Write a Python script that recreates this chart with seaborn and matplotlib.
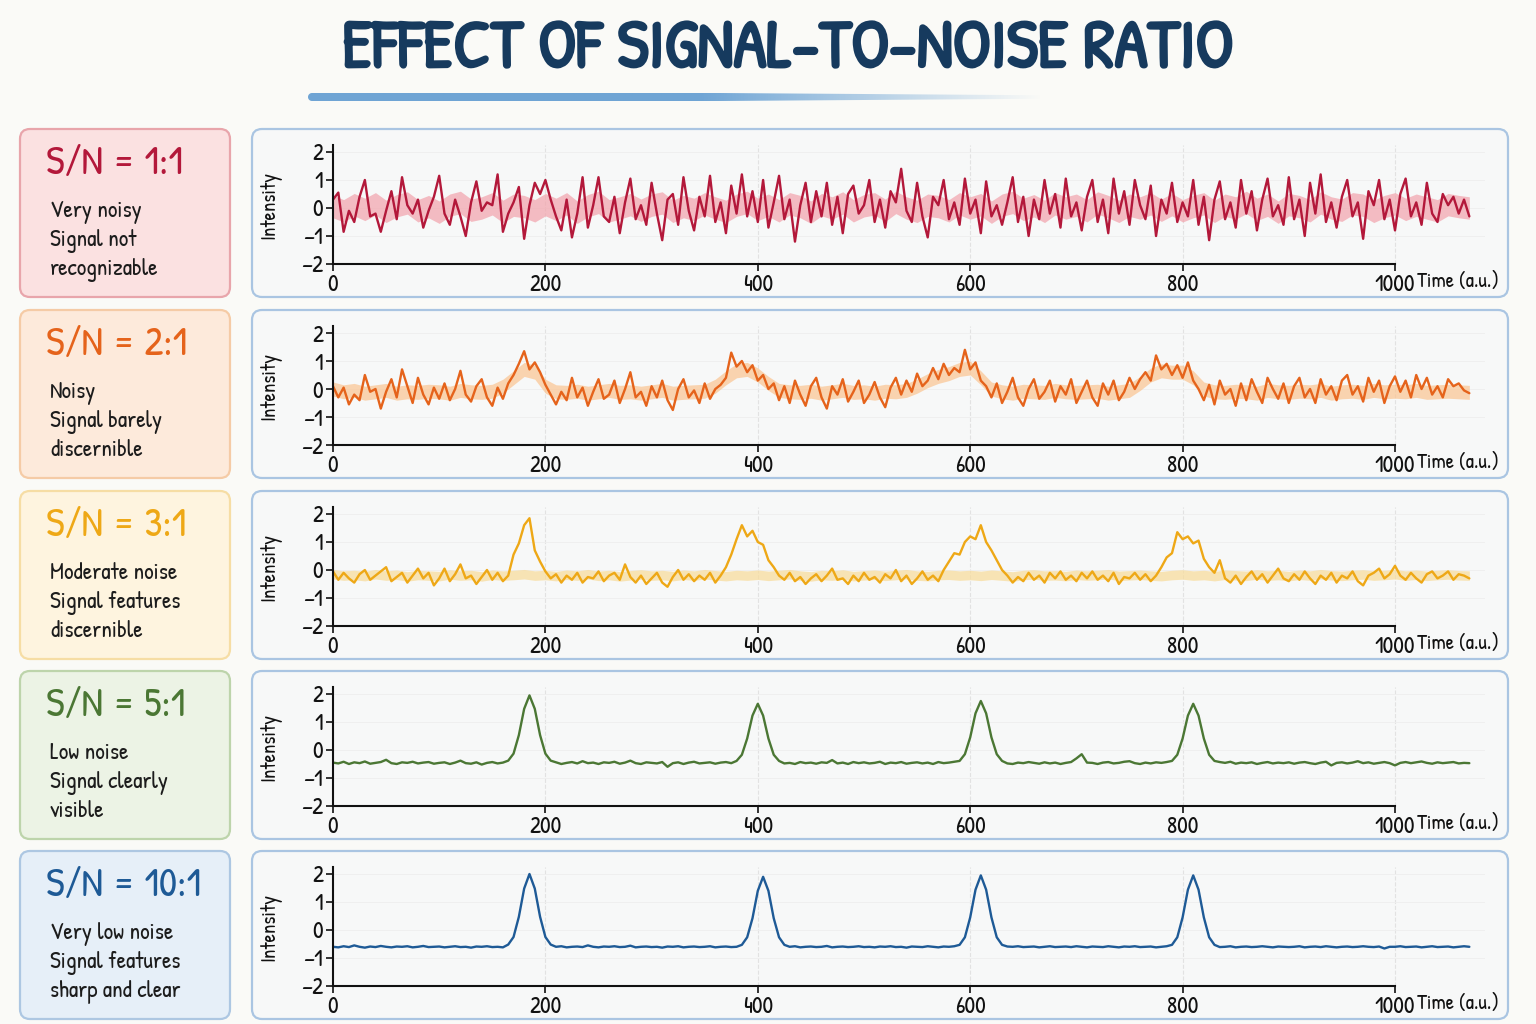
import numpy as np
import pandas as pd
import seaborn as sns
import matplotlib.pyplot as plt
import matplotlib.patheffects as pe
from matplotlib.patches import FancyBboxPatch, Polygon
from matplotlib.colors import to_rgb

# sampling grid of the traces (every 5 a.u.) and of the shaded bands (every 10 a.u.)
time = np.arange(0, 1071, 5)
band_time = np.arange(0, 1071, 10)

sn_labels = ["S/N = 1:1", "S/N = 2:1", "S/N = 3:1", "S/N = 5:1", "S/N = 10:1"]
sn_notes = [
    ["Very noisy", "Signal not", "recognizable"],
    ["Noisy", "Signal barely", "discernible"],
    ["Moderate noise", "Signal features", "discernible"],
    ["Low noise", "Signal clearly", "visible"],
    ["Very low noise", "Signal features", "sharp and clear"],
]

sn1 = [0.3, 0.55, -0.85, -0.1, -0.5, 0.4, 1.0, -0.3, -0.2, -0.85, -0.1, 0.6, -0.4, 1.1, 0.1, -0.2, 0.3, -0.7, -0.1, 0.4,
       1.15, -0.2, -0.6, 0.3, -0.3, -1.0, 0.2, 0.95, -0.1, 0.2, 0.1, 1.2, -0.85, -0.2, 0.2, 0.75, -1.1, 0.1, 0.9, 0.5,
       1.0, 0.3, -0.3, -0.8, 0.3, -1.05, -0.2, 1.1, -0.7, 0.1, 1.1, -0.3, -0.5, 0.4, -0.9, 0.2, 1.05, -0.4, 0.1, -0.6,
       0.9, -0.2, -1.15, 0.3, 0.5, -0.6, 1.1, -0.1, -0.8, 0.4, -0.3, 1.15, -0.5, 0.2, -0.9, 0.8, -0.2, 1.2, -0.3, 0.6,
       -0.5, 1.0, -0.7, 0.2, 1.15, -0.4, 0.3, -1.2, 0.1, 0.9, -0.5, 0.6, -0.3, 0.9, -0.6, 0.4, -0.9, 0.5, 0.8, -0.2,
       0.1, 1.0, -0.5, 0.3, -0.7, 0.6, 0.2, 1.4, -0.1, -0.5, 0.9, -0.3, -1.05, 0.4, 0.1, 1.0, -0.4, 0.2, -0.6, 1.05,
       -0.2, 0.3, -0.9, 0.95, -0.3, 0.1, -0.6, 0.2, 1.1, -0.5, 0.4, -1.0, 0.3, -0.4, 1.0, -0.2, 0.5, -0.7, 1.05, -0.3,
       0.2, -0.8, 0.4, 1.0, -0.5, 0.3, -0.9, 1.05, -0.2, 0.6, -0.6, 1.0, 0.1, -0.4, 0.8, -1.0, 0.3, -0.2, 0.9, -0.5,
       0.2, -0.3, 1.0, -0.6, 0.4, -1.15, 0.3, 0.95, -0.4, 0.2, -0.7, 1.0, -0.2, 0.6, -0.8, 0.3, 1.05, -0.3, 0.1, -0.6,
       1.1, -0.4, 0.3, -1.0, 0.9, -0.2, 1.2, -0.5, 0.2, -0.7, 0.4, 1.0, -0.3, 0.2, -1.1, 0.6, 0.1, 1.0, -0.4, 0.3,
       -0.8, 0.5, 1.05, -0.3, 0.2, -0.6, 0.9, -0.2, -0.5, 0.5, 0.1, 0.4, -0.2, 0.3, -0.3]

sn2 = [0.1, -0.3, 0.05, -0.55, -0.2, -0.4, 0.5, -0.1, 0.0, -0.7, -0.1, 0.35, -0.3, 0.7, 0.1, -0.5, 0.4, -0.2, -0.55, 0.05,
       -0.35, 0.2, -0.4, 0.0, 0.65, -0.2, -0.45, 0.1, 0.35, -0.3, -0.6, 0.05, -0.35, 0.2, 0.5, 0.9, 1.35, 0.7, 0.95, 0.6,
       0.15, -0.2, -0.55, -0.1, -0.4, 0.4, -0.3, 0.05, -0.6, -0.1, 0.35, -0.35, -0.2, 0.3, -0.5, 0.0, 0.6, -0.3, -0.1, -0.6,
       0.1, -0.3, 0.3, -0.4, -0.75, 0.0, 0.35, -0.3, -0.05, -0.5, 0.2, -0.35, 0.0, 0.15, 0.4, 1.3, 0.8, 1.0, 0.6, 0.85,
       0.3, 0.5, 0.0, 0.2, -0.4, 0.1, -0.5, 0.3, -0.2, -0.6, 0.1, 0.4, -0.3, -0.7, 0.1, -0.2, 0.35, -0.45, -0.1, 0.3,
       -0.5, -0.2, 0.25, -0.3, -0.65, 0.05, 0.4, -0.2, 0.3, -0.1, 0.55, 0.1, 0.3, 0.75, 0.35, 0.9, 0.5, 0.75, 0.6, 1.4,
       0.7, 0.95, 0.3, 0.1, -0.3, 0.2, -0.5, -0.1, 0.4, -0.3, -0.6, 0.0, 0.35, -0.35, -0.1, 0.3, -0.45, 0.1, -0.2, 0.35,
       -0.5, -0.1, 0.3, -0.3, -0.6, 0.2, -0.2, 0.3, -0.4, -0.1, 0.4, 0.0, 0.35, 0.6, 0.3, 1.2, 0.7, 0.9, 0.5, 0.85,
       0.4, 0.95, 0.3, 0.0, -0.4, 0.15, -0.55, 0.3, -0.2, 0.0, -0.6, 0.2, -0.4, 0.35, -0.1, -0.5, 0.4, 0.0, -0.35, 0.2,
       -0.5, 0.1, 0.4, -0.3, 0.0, -0.5, 0.35, -0.2, 0.1, -0.4, 0.3, 0.5, -0.2, 0.1, -0.45, 0.4, -0.1, 0.3, -0.5, 0.1,
       0.45, -0.1, 0.3, -0.3, 0.5, 0.0, 0.4, -0.2, 0.1, -0.3, 0.35, 0.1, 0.2, -0.05, -0.15]

sn3 = [-0.05, -0.35, -0.1, -0.3, -0.45, -0.15, 0.0, -0.35, -0.2, -0.05, 0.1, -0.4, -0.25, -0.1, -0.45, -0.2, 0.05, -0.3, -0.1, -0.55,
       -0.3, 0.05, -0.4, -0.15, 0.2, -0.3, -0.2, -0.5, -0.25, 0.0, -0.35, -0.1, -0.4, -0.2, 0.55, 0.95, 1.6, 1.85, 0.7, 0.3,
       -0.05, -0.3, -0.15, -0.45, -0.2, -0.35, -0.1, -0.45, -0.25, -0.3, -0.05, -0.4, -0.2, -0.1, -0.35, 0.2, -0.25, -0.45, -0.2, -0.5,
       -0.3, -0.1, -0.45, -0.6, -0.25, 0.0, -0.35, -0.15, -0.4, -0.2, -0.35, -0.1, -0.45, -0.2, 0.1, 0.55, 1.1, 1.6, 1.2, 1.4,
       1.0, 0.9, 0.35, 0.1, -0.2, -0.35, -0.1, -0.4, -0.25, -0.5, -0.3, -0.15, -0.4, -0.2, 0.05, -0.35, -0.3, -0.5, -0.2, -0.4,
       -0.1, -0.35, -0.25, -0.45, -0.15, -0.3, 0.0, -0.4, -0.2, -0.5, -0.3, -0.05, -0.35, -0.2, -0.4, 0.0, 0.3, 0.6, 0.55, 1.0,
       1.2, 1.1, 1.6, 1.0, 0.7, 0.35, 0.0, -0.2, -0.45, -0.25, -0.4, -0.1, -0.35, -0.2, -0.45, -0.1, -0.3, -0.05, -0.35, -0.2,
       -0.4, -0.1, -0.3, -0.05, -0.35, -0.2, -0.4, -0.1, -0.5, -0.25, -0.3, -0.1, -0.35, -0.15, -0.4, -0.2, 0.1, 0.45, 0.6, 1.35,
       1.1, 1.2, 0.95, 1.05, 0.4, 0.1, -0.1, 0.35, -0.3, -0.45, -0.2, -0.5, -0.25, -0.05, -0.35, -0.15, -0.45, -0.2, 0.05, -0.3,
       -0.4, -0.15, -0.35, -0.05, -0.3, -0.5, -0.2, -0.35, -0.1, -0.45, -0.2, -0.3, -0.05, -0.4, -0.55, -0.2, -0.1, 0.05, -0.3, -0.15,
       0.15, -0.2, -0.35, -0.1, -0.3, -0.45, -0.15, -0.05, -0.3, -0.2, -0.05, -0.35, -0.15, -0.2, -0.3]

sn5 = [-0.45, -0.48, -0.42, -0.5, -0.44, -0.47, -0.41, -0.49, -0.46, -0.43, -0.35, -0.47, -0.5, -0.44, -0.46, -0.42, -0.48, -0.45, -0.43, -0.49,
       -0.46, -0.44, -0.5, -0.45, -0.38, -0.47, -0.49, -0.44, -0.52, -0.46, -0.43, -0.48, -0.45, -0.38, -0.13, 0.53, 1.47, 1.95, 1.47, 0.53,
       -0.13, -0.38, -0.44, -0.5, -0.46, -0.43, -0.48, -0.4, -0.47, -0.45, -0.5, -0.44, -0.46, -0.42, -0.49, -0.45, -0.38, -0.47, -0.5, -0.44,
       -0.46, -0.48, -0.43, -0.6, -0.47, -0.44, -0.5, -0.45, -0.42, -0.48, -0.46, -0.44, -0.49, -0.45, -0.43, -0.47, -0.39, -0.17, 0.41, 1.23,
       1.65, 1.23, 0.41, -0.17, -0.39, -0.48, -0.46, -0.5, -0.43, -0.47, -0.45, -0.49, -0.44, -0.46, -0.36, -0.48, -0.45, -0.5, -0.43, -0.47,
       -0.44, -0.48, -0.46, -0.42, -0.5, -0.45, -0.47, -0.43, -0.49, -0.46, -0.44, -0.48, -0.45, -0.5, -0.43, -0.47, -0.45, -0.42, -0.39, -0.15,
       0.45, 1.31, 1.75, 1.31, 0.45, -0.15, -0.39, -0.48, -0.5, -0.45, -0.47, -0.43, -0.46, -0.49, -0.44, -0.48, -0.45, -0.5, -0.46, -0.43,
       -0.3, -0.15, -0.45, -0.46, -0.5, -0.45, -0.43, -0.48, -0.46, -0.42, -0.4, -0.47, -0.5, -0.45, -0.48, -0.44, -0.46, -0.43, -0.39, -0.17,
       0.41, 1.23, 1.65, 1.23, 0.41, -0.17, -0.39, -0.43, -0.46, -0.42, -0.49, -0.45, -0.47, -0.44, -0.5, -0.46, -0.43, -0.48, -0.45, -0.47,
       -0.44, -0.49, -0.45, -0.43, -0.47, -0.5, -0.45, -0.42, -0.55, -0.46, -0.44, -0.48, -0.45, -0.4, -0.47, -0.44, -0.49, -0.46, -0.43, -0.47,
       -0.55, -0.46, -0.43, -0.47, -0.44, -0.41, -0.46, -0.49, -0.44, -0.47, -0.45, -0.43, -0.48, -0.46, -0.47]

sn10 = [-0.6, -0.62, -0.58, -0.61, -0.55, -0.6, -0.63, -0.59, -0.61, -0.57, -0.6, -0.62, -0.59, -0.6, -0.58, -0.62, -0.6, -0.57, -0.61, -0.6,
        -0.59, -0.62, -0.6, -0.58, -0.61, -0.6, -0.63, -0.59, -0.6, -0.58, -0.61, -0.6, -0.62, -0.52, -0.25, 0.47, 1.48, 2.0, 1.48, 0.47,
        -0.25, -0.52, -0.6, -0.58, -0.62, -0.6, -0.59, -0.61, -0.55, -0.6, -0.62, -0.59, -0.6, -0.58, -0.61, -0.6, -0.56, -0.62, -0.6, -0.59,
        -0.61, -0.6, -0.63, -0.59, -0.6, -0.58, -0.62, -0.6, -0.59, -0.61, -0.6, -0.58, -0.62, -0.6, -0.59, -0.61, -0.6, -0.53, -0.26, 0.42,
        1.4, 1.9, 1.4, 0.42, -0.26, -0.53, -0.6, -0.58, -0.62, -0.6, -0.59, -0.61, -0.6, -0.57, -0.62, -0.6, -0.59, -0.61, -0.6, -0.58,
        -0.61, -0.6, -0.62, -0.59, -0.6, -0.58, -0.61, -0.6, -0.63, -0.59, -0.6, -0.61, -0.58, -0.6, -0.62, -0.59, -0.6, -0.58, -0.53, -0.26,
        0.45, 1.44, 1.95, 1.44, 0.45, -0.26, -0.53, -0.59, -0.6, -0.58, -0.61, -0.6, -0.59, -0.62, -0.6, -0.58, -0.61, -0.6, -0.59, -0.61,
        -0.58, -0.6, -0.62, -0.59, -0.6, -0.61, -0.58, -0.6, -0.62, -0.59, -0.6, -0.58, -0.61, -0.6, -0.59, -0.62, -0.6, -0.58, -0.53, -0.26,
        0.45, 1.44, 1.95, 1.44, 0.45, -0.26, -0.53, -0.61, -0.6, -0.58, -0.62, -0.6, -0.59, -0.61, -0.6, -0.58, -0.6, -0.62, -0.59, -0.6,
        -0.61, -0.6, -0.58, -0.62, -0.6, -0.59, -0.61, -0.58, -0.6, -0.62, -0.6, -0.59, -0.61, -0.6, -0.58, -0.6, -0.61, -0.59, -0.66, -0.6,
        -0.6, -0.58, -0.61, -0.6, -0.59, -0.62, -0.6, -0.58, -0.61, -0.6, -0.59, -0.62, -0.6, -0.58, -0.6]

# centre line of the light shaded band behind the three noisiest traces
band1 = [0.05, -0.1, 0.12, -0.05, 0.15, -0.12, 0.08, 0.18, -0.1, 0.05,
         -0.15, 0.1, 0.2, -0.08, 0.0, 0.15, -0.12, 0.1, 0.05, -0.1,
         0.12, -0.05, 0.15, -0.15, 0.08, 0.2, -0.1, 0.0, 0.12, -0.08,
         0.1, 0.18, -0.12, 0.05, -0.05, 0.15, 0.0, -0.12, 0.1, 0.2,
         -0.05, 0.1, -0.1, 0.15, 0.05, -0.15, 0.12, 0.0, 0.18, -0.1,
         0.08, 0.15, -0.08, 0.2, 0.0, -0.12, 0.1, 0.05, -0.1, 0.15,
         0.0, 0.12, -0.15, 0.1, 0.2, -0.05, 0.08, -0.12, 0.15, 0.0,
         0.1, -0.1, 0.18, 0.05, -0.12, 0.1, 0.0, 0.15, -0.08, 0.12,
         -0.1, 0.05, 0.15, -0.12, 0.1, 0.0, 0.2, -0.05, 0.1, -0.15,
         0.12, 0.05, -0.1, 0.18, 0.0, -0.08, 0.15, 0.1, -0.12, 0.05,
         0.15, -0.05, 0.1, 0.0, -0.1, 0.12, 0.05, 0.0]
band2 = [0.0, -0.1, -0.05, -0.15, -0.1, -0.05, -0.15, -0.1, -0.12, -0.08,
         -0.1, -0.15, -0.05, -0.1, -0.12, -0.08, 0.1, 0.4, 0.7, 0.6,
         0.1, -0.1, -0.12, -0.08, -0.15, -0.1, -0.05, -0.12, -0.1, -0.15,
         -0.1, -0.05, -0.15, -0.12, -0.1, -0.08, 0.1, 0.4, 0.65, 0.7,
         0.5, 0.2, -0.05, -0.1, -0.12, -0.08, -0.15, -0.1, -0.05, -0.12,
         -0.1, -0.15, -0.08, -0.1, -0.05, 0.1, 0.3, 0.45, 0.55, 0.7,
         0.75, 0.4, 0.0, -0.1, -0.15, -0.08, -0.1, -0.12, -0.05, -0.1,
         -0.12, -0.1, -0.08, -0.15, -0.1, -0.05, 0.2, 0.5, 0.65, 0.6,
         0.6, 0.4, 0.0, -0.1, -0.12, -0.08, -0.1, -0.15, -0.05, -0.1,
         -0.12, -0.08, -0.1, -0.05, -0.15, -0.1, -0.08, -0.12, -0.05, -0.1,
         -0.08, -0.1, -0.05, -0.12, -0.1, -0.08, -0.1, -0.12]
band3 = [-0.15, -0.2, -0.18, -0.22, -0.15, -0.2, -0.17, -0.23, -0.18, -0.2,
         -0.22, -0.16, -0.2, -0.18, -0.23, -0.17, -0.2, -0.18, -0.15, -0.2,
         -0.18, -0.22, -0.17, -0.2, -0.15, -0.21, -0.18, -0.23, -0.19, -0.16,
         -0.2, -0.18, -0.22, -0.17, -0.2, -0.15, -0.19, -0.22, -0.18, -0.2,
         -0.17, -0.21, -0.18, -0.15, -0.2, -0.23, -0.18, -0.2, -0.16, -0.22,
         -0.19, -0.17, -0.21, -0.18, -0.15, -0.2, -0.22, -0.18, -0.17, -0.2,
         -0.18, -0.21, -0.17, -0.2, -0.23, -0.18, -0.16, -0.2, -0.19, -0.22,
         -0.17, -0.2, -0.18, -0.15, -0.21, -0.19, -0.17, -0.2, -0.22, -0.18,
         -0.16, -0.2, -0.18, -0.22, -0.17, -0.19, -0.21, -0.16, -0.2, -0.18,
         -0.22, -0.17, -0.2, -0.15, -0.19, -0.21, -0.18, -0.16, -0.2, -0.18,
         -0.15, -0.2, -0.17, -0.21, -0.18, -0.16, -0.19, -0.2]

series = [sn1, sn2, sn3, sn5, sn10]
bands = [band1, band2, band3, None, None]
band_halfwidth = [0.4, 0.25, 0.17, 0, 0]

line_colors = ["#B3183A", "#E5631B", "#EEA816", "#4B7734", "#1E5A96"]
band_colors = ["#F2A2AB", "#FBC490", "#F8DB98", None, None]
box_faces = ["#FBE1E1", "#FDEADB", "#FEF4DF", "#ECF3E5", "#E6EFF8"]
box_edges = ["#E8A5AB", "#F5CBA6", "#F6DDA4", "#BDD4AB", "#ADC7E2"]
bg_color = "#FAFAF7"

sns.set_theme(style="white")
plt.rcParams["font.family"] = ["Patrick Hand", "Comic Neue", "Lato", "DejaVu Sans"]
plt.rcParams["axes.unicode_minus"] = True

W, H = 1536, 1024
fig = plt.figure(figsize=(W / 100, H / 100), dpi=100, facecolor=bg_color)

# decoration layer in pixel units
deco = fig.add_axes([0, 0, 1, 1])
deco.axis("off")

deco.text(788, 53, "EFFECT OF SIGNAL-TO-NOISE RATIO", ha="center", va="center",
          fontsize=49, color="#163A5E",
          path_effects=[pe.withStroke(linewidth=2, foreground="#163A5E")])

# brush underline: tapered shape filled with a gradient that fades out to the right
x0, x1, yc = 312, 1042, 97
bx = np.linspace(x0, x1, 120)
bw = np.where(bx < 720, 8.0, 8.0 - 4.5 * (bx - 720) / (x1 - 720))
t = np.linspace(0, np.pi, 24)
outline = np.vstack([
    np.column_stack([bx, yc - bw / 2]),
    np.column_stack([bx[::-1], yc + bw[::-1] / 2]),
    np.column_stack([x0 - 4 * np.sin(t), yc + 4 * np.cos(t)]),
])
brush = Polygon(outline, closed=True, fc="none", ec="none")
deco.add_patch(brush)
gx = np.linspace(x0 - 5, x1, 400)
fade = np.clip(1 - (gx - 700) / (x1 - 700), 0, 1)
grad = np.zeros((1, len(gx), 4))
grad[0, :, :3] = to_rgb("#5F9BD1")
grad[0, :, 3] = 0.9 * fade
img = deco.imshow(grad, extent=(x0 - 5, x1, yc + 5, yc - 5), aspect="auto", interpolation="bilinear")
img.set_clip_path(brush)

deco.set_xlim(0, W)
deco.set_ylim(H, 0)

tops = [129, 310, 491, 671, 851]
box_h = 168
px_per_unit = 1.062
ax_w = px_per_unit * 1085

for i, top in enumerate(tops):
    deco.add_patch(FancyBboxPatch((20, top), 210, box_h, boxstyle="round,pad=0,rounding_size=10",
                                  fc=box_faces[i], ec=box_edges[i], lw=1.6))
    deco.add_patch(FancyBboxPatch((252, top), 1256, box_h, boxstyle="round,pad=0,rounding_size=10",
                                  fc="#F7F8F8", ec="#AAC5E2", lw=1.6))
    deco.text(46, top + 37, sn_labels[i], fontsize=29, color=line_colors[i], va="center", ha="left")
    for k, line in enumerate(sn_notes[i]):
        deco.text(50, top + 83 + 29 * k, line, fontsize=17, color="#1C1C1C", va="center", ha="left")

    # data panel
    bottom_px = top + 135
    ax = fig.add_axes([333 / W, 1 - bottom_px / H, ax_w / W, 119 / H])
    ax.patch.set_alpha(0)
    if bands[i] is not None:
        c = np.array(bands[i])
        ax.fill_between(band_time, c - band_halfwidth[i], c + band_halfwidth[i],
                        color=band_colors[i], alpha=0.7, lw=0)
    df = pd.DataFrame({"time": time, "intensity": series[i]})
    sns.lineplot(data=df, x="time", y="intensity", ax=ax, color=line_colors[i], linewidth=1.7)

    ax.set_xlim(0, 1085)
    ax.set_ylim(-2, 2.25)
    ax.set_xticks([0, 200, 400, 600, 800, 1000])
    ax.set_yticks([-2, -1, 0, 1, 2])
    for side in ["top", "right"]:
        ax.spines[side].set_visible(False)
    ax.spines["bottom"].set_bounds(0, 1000)
    for side in ["bottom", "left"]:
        ax.spines[side].set_color("#111111")
        ax.spines[side].set_linewidth(1.5)
    ax.tick_params(axis="both", direction="out", length=5, width=1.2, labelsize=17,
                   colors="#111111", pad=2, bottom=True, left=True)
    ax.grid(axis="x", color="#E2E2E2", lw=0.8, ls="--")
    ax.grid(axis="y", color="#EEEEEE", lw=0.6)
    ax.set_axisbelow(True)
    ax.set_ylabel("Intensity", fontsize=15, color="#111111")
    ax.yaxis.set_label_coords(-0.045, 0.5)
    ax.set_xlabel("Time (a.u.)", fontsize=15, color="#111111")
    ax.xaxis.set_label_coords((1458 - 333) / ax_w, -0.16)
    ax.xaxis.label.set_va("center")

fig.savefig("out.png", dpi=100, facecolor=fig.get_facecolor())
